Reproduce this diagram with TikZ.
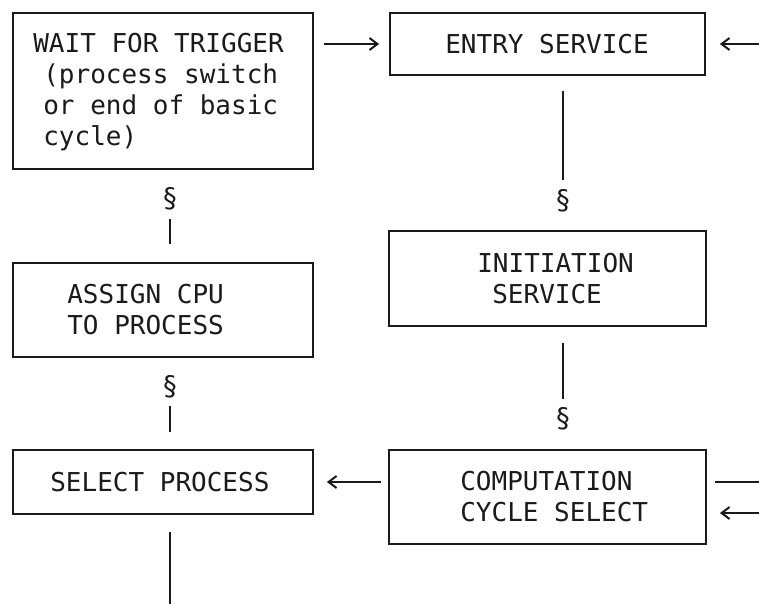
\documentclass[tikz,border=0pt]{standalone}
\usepackage{fontspec}
\usetikzlibrary{arrows.meta,positioning,calc}
\newfontfamily\typefont{DejaVu Sans Mono}
\definecolor{ink}{HTML}{1A1A1A}
\tikzset{
  blk/.style={draw=ink,line width=1.8pt,minimum width=300pt,inner sep=0pt},
  lbl/.style={anchor=west,align=left,inner sep=0pt,text=ink,font=\typefont\fontsize{26}{31}\selectfont},
  sect/.style={inner sep=0pt,text=ink,font=\typefont\fontsize{27}{30}\selectfont},
  ln/.style={draw=ink,line width=2pt},
  tip/.style={-{Straight Barb[length=8pt,width=12pt]}},
  gtip/.style={-{Straight Barb[length=8pt,width=12pt,sep=3pt]}},
}

\begin{document}
\begin{tikzpicture}[x=1pt,y=-1pt]
  \useasboundingbox (0,0) rectangle (759,604);
  % left column
  \node[blk,minimum height=156pt] (wait) at (163,91) {};
  \node[blk,minimum height=94pt] (assign) at (163,310) {};
  \node[blk,minimum height=64pt] (select) at (163,482) {};
  % right column
  \node[blk,minimum width=315pt,minimum height=62pt] (entry) at (547.5,44) {};
  \node[blk,minimum width=317pt,minimum height=95pt] (init) at (547.5,278.5) {};
  \node[blk,minimum width=317pt,minimum height=94pt] (comp) at (547.5,497) {};
  % texts
  \node[lbl] (waitT) at ([xshift=21pt,yshift=-1pt]wait.west) {WAIT FOR TRIGGER\\\hspace*{10pt}(process switch\\\hspace*{10pt}or end of basic\\\hspace*{10pt}cycle)};
  \node[lbl] (assignT) at ([xshift=55pt]assign.west) {ASSIGN CPU\\TO PROCESS};
  \node[lbl] (selectT) at ([xshift=38pt]select.west) {SELECT PROCESS};
  \node[lbl] (entryT) at ([xshift=56pt]entry.west) {ENTRY SERVICE};
  \node[lbl] (initT) at ([xshift=89pt]init.west) {INITIATION\\\hspace*{15pt}SERVICE};
  \node[lbl] (compT) at ([xshift=72pt]comp.west) {COMPUTATION\\CYCLE SELECT};
  % section marks
  \node[sect] (s1) at (563,201) {\S};
  \node[sect] (s2) at (563,419) {\S};
  \node[sect] (s3) at (170,199) {\S};
  \node[sect] (s4) at (170,387) {\S};
  % loose ends
  \coordinate (inA) at (759,44);
  \coordinate (outB) at (759,482);
  \coordinate (inC) at (759,513);
  \coordinate (down) at (170,604);
  % connectors
  \draw[ln,tip,shorten <=10pt,shorten >=10pt] (wait.east |- entry.west) -- (entry.west);
  \draw[ln,gtip,shorten >=11pt] (inA) -- (entry.east);
  \draw[ln,shorten <=15pt,shorten >=9pt] (entry.south -| s1) -- (s1.north);
  \draw[ln,shorten <=16pt,shorten >=8pt] (init.south -| s2) -- (s2.north);
  \draw[ln,shorten <=8pt] (comp.east |- outB) -- (outB);
  \draw[ln,gtip,shorten >=10pt] (inC) -- (comp.east |- inC);
  \draw[ln,gtip,shorten <=7pt,shorten >=10pt] (comp.west |- select.east) -- (select.east);
  \draw[ln,shorten <=8pt,shorten >=18pt] (s3.south) -- (assign.north -| s3);
  \draw[ln,shorten <=7pt,shorten >=17pt] (s4.south) -- (select.north -| s4);
  \draw[ln,shorten <=17pt] (select.south -| down) -- (down);
\end{tikzpicture}
\end{document}
